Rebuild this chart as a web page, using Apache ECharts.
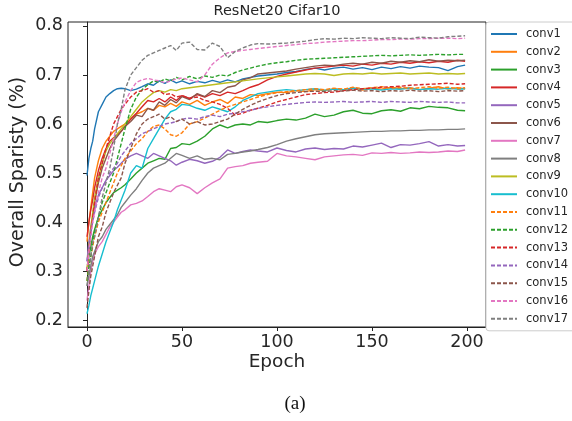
<!DOCTYPE html>
<html><head><meta charset="utf-8">
<script src="https://cdn.jsdelivr.net/npm/echarts@6/dist/echarts.min.js"></script>
<style>html,body{margin:0;padding:0;background:#fff}#c{width:572px;height:421px}</style>
</head><body><div id="c"></div>
<script>
const epochs = [0,1,2,3,4,6,8,10,12,14,16,18,20,23,26,29,32,35,38,41,44,47,50,54,58,62,66,70,74,78,82,86,90,95,100,105,110,115,120,125,130,135,140,145,150,155,160,165,170,175,180,185,190,195,199];
const seriesNames = ['conv1','conv2','conv3','conv4','conv5','conv6','conv7','conv8','conv9','conv10','conv11','conv12','conv13','conv14','conv15','conv16','conv17'];
const xTicks = [0,50,100,150,200];
const yTicks = [0.2,0.3,0.4,0.5,0.6,0.7,0.8];

const conv1 = [0.495,0.53,0.55,0.565,0.59, 0.625,0.64,0.655,0.662,0.668,0.672,0.673,0.672, 0.668,0.671,0.676,0.682,0.679,0.688,0.683,0.69,0.684,0.688, 0.682,0.687,0.684,0.689,0.685,0.69,0.686,0.692,0.695,0.698, 0.7,0.702,0.705,0.707,0.711,0.714,0.71,0.714,0.716,0.712,0.715,0.711,0.716,0.713,0.717,0.714,0.718,0.716,0.715,0.709,0.717, 0.72];
const conv2 = [0.36,0.4,0.43,0.46,0.49, 0.525,0.55,0.565,0.575,0.585,0.59,0.595,0.6, 0.61,0.62,0.625,0.632,0.628,0.638,0.635,0.642,0.636,0.645, 0.64,0.648,0.638,0.645,0.65,0.642,0.655,0.652,0.66,0.658, 0.662,0.665,0.664,0.668,0.666,0.67,0.668,0.672,0.67,0.674,0.669,0.673,0.671,0.675,0.672,0.674,0.67,0.673,0.676,0.671,0.674, 0.672];
const conv3 = [0.3,0.33,0.35,0.37,0.385, 0.41,0.425,0.44,0.45,0.46,0.465,0.47,0.476, 0.488,0.5,0.51,0.52,0.525,0.53,0.528,0.55,0.552,0.56, 0.558,0.565,0.575,0.59,0.598,0.592,0.598,0.6,0.598,0.605, 0.603,0.607,0.61,0.608,0.612,0.62,0.615,0.618,0.625,0.628,0.622,0.621,0.627,0.629,0.626,0.633,0.631,0.636,0.634,0.633,0.628, 0.627];
const conv4 = [0.37,0.4,0.425,0.445,0.47, 0.505,0.53,0.55,0.565,0.572,0.578,0.585,0.595, 0.61,0.622,0.635,0.648,0.645,0.652,0.645,0.655,0.648,0.658, 0.652,0.66,0.655,0.662,0.658,0.665,0.662,0.668,0.675,0.68, 0.69,0.697,0.702,0.706,0.71,0.714,0.716,0.718,0.72,0.718,0.722,0.72,0.724,0.722,0.726,0.724,0.727,0.725,0.728,0.726,0.73, 0.728];
const conv5 = [0.32,0.36,0.39,0.41,0.43, 0.455,0.47,0.485,0.495,0.505,0.512,0.52,0.528, 0.535,0.54,0.535,0.53,0.54,0.535,0.53,0.525,0.516,0.522, 0.528,0.525,0.52,0.524,0.532,0.547,0.54,0.544,0.547,0.545, 0.543,0.551,0.546,0.543,0.549,0.551,0.548,0.55,0.549,0.555,0.553,0.557,0.561,0.552,0.558,0.557,0.56,0.564,0.555,0.558,0.555, 0.556];
const conv6 = [0.3,0.34,0.38,0.41,0.44, 0.48,0.51,0.53,0.55,0.565,0.575,0.585,0.595, 0.605,0.618,0.615,0.632,0.628,0.645,0.638,0.65,0.643,0.656, 0.65,0.662,0.656,0.668,0.664,0.675,0.678,0.69,0.694,0.702, 0.704,0.706,0.708,0.712,0.715,0.718,0.72,0.719,0.722,0.724,0.722,0.726,0.724,0.728,0.726,0.729,0.727,0.731,0.728,0.73,0.729, 0.73];
const conv7 = [0.24,0.27,0.3,0.32,0.335, 0.35,0.36,0.375,0.39,0.4,0.41,0.42,0.425, 0.435,0.438,0.443,0.452,0.462,0.468,0.465,0.462,0.472,0.476, 0.47,0.458,0.47,0.48,0.488,0.51,0.513,0.515,0.52,0.522, 0.524,0.54,0.535,0.533,0.53,0.527,0.533,0.535,0.537,0.538,0.536,0.541,0.54,0.542,0.54,0.541,0.543,0.542,0.543,0.545,0.544, 0.547];
const conv8 = [0.27,0.29,0.31,0.33,0.34, 0.36,0.37,0.385,0.395,0.405,0.415,0.43,0.44, 0.455,0.468,0.485,0.5,0.51,0.515,0.52,0.53,0.54,0.536, 0.53,0.535,0.528,0.53,0.527,0.538,0.54,0.543,0.545,0.548, 0.552,0.558,0.565,0.57,0.574,0.578,0.58,0.581,0.582,0.583,0.584,0.585,0.585,0.586,0.586,0.587,0.587,0.588,0.588,0.589,0.589, 0.59];
const conv9 = [0.3,0.35,0.39,0.42,0.45, 0.49,0.52,0.545,0.56,0.57,0.58,0.59,0.6, 0.615,0.63,0.645,0.655,0.664,0.668,0.665,0.67,0.668,0.672, 0.674,0.676,0.678,0.68,0.682,0.684,0.686,0.688,0.69,0.692, 0.694,0.696,0.698,0.7,0.702,0.703,0.702,0.699,0.702,0.703,0.702,0.704,0.702,0.703,0.704,0.702,0.703,0.704,0.702,0.703,0.702, 0.703];
const conv10 = [0.213,0.23,0.25,0.265,0.28, 0.31,0.335,0.36,0.38,0.4,0.425,0.445,0.465, 0.5,0.515,0.51,0.55,0.57,0.59,0.61,0.625,0.63,0.64, 0.638,0.632,0.628,0.635,0.63,0.625,0.635,0.648,0.655,0.662, 0.665,0.668,0.67,0.668,0.67,0.672,0.669,0.671,0.67,0.673,0.671,0.672,0.669,0.672,0.671,0.673,0.67,0.672,0.671,0.673,0.671, 0.672];
const conv11 = [0.28,0.31,0.33,0.35,0.37, 0.4,0.42,0.44,0.46,0.48,0.5,0.515,0.53, 0.545,0.56,0.57,0.585,0.595,0.598,0.59,0.578,0.575,0.582, 0.6,0.605,0.612,0.62,0.628,0.635,0.64,0.645,0.65,0.655, 0.66,0.664,0.666,0.668,0.67,0.672,0.67,0.673,0.671,0.675,0.672,0.674,0.676,0.673,0.675,0.672,0.674,0.676,0.673,0.675,0.672, 0.674];
const conv12 = [0.28,0.31,0.33,0.36,0.38, 0.41,0.44,0.46,0.48,0.5,0.53,0.56,0.59, 0.63,0.655,0.67,0.68,0.688,0.685,0.692,0.688,0.695,0.69, 0.697,0.692,0.698,0.695,0.7,0.698,0.705,0.71,0.714,0.718, 0.722,0.725,0.727,0.73,0.732,0.733,0.734,0.735,0.736,0.737,0.738,0.739,0.74,0.739,0.74,0.741,0.74,0.741,0.742,0.741,0.742, 0.742];
const conv13 = [0.3,0.34,0.38,0.41,0.44, 0.49,0.52,0.55,0.575,0.6,0.615,0.63,0.64, 0.655,0.665,0.668,0.672,0.665,0.668,0.66,0.662,0.655,0.658, 0.652,0.655,0.648,0.645,0.64,0.632,0.618,0.622,0.628,0.632, 0.638,0.645,0.65,0.655,0.66,0.662,0.664,0.665,0.668,0.67,0.672,0.673,0.675,0.676,0.677,0.679,0.68,0.681,0.682,0.683,0.681, 0.682];
const conv14 = [0.32,0.35,0.38,0.4,0.42, 0.45,0.47,0.485,0.5,0.51,0.52,0.535,0.545, 0.56,0.57,0.58,0.585,0.59,0.595,0.6,0.602,0.605,0.61, 0.612,0.61,0.615,0.618,0.615,0.62,0.622,0.625,0.628,0.632, 0.635,0.638,0.64,0.642,0.644,0.645,0.644,0.645,0.646,0.644,0.645,0.646,0.644,0.646,0.645,0.644,0.646,0.645,0.644,0.645,0.643, 0.643];
const conv15 = [0.225,0.26,0.29,0.31,0.33, 0.37,0.39,0.42,0.44,0.46,0.475,0.49,0.52, 0.55,0.58,0.6,0.61,0.615,0.62,0.61,0.615,0.605,0.61, 0.6,0.605,0.598,0.6,0.605,0.61,0.62,0.63,0.638,0.645, 0.652,0.658,0.662,0.664,0.666,0.667,0.666,0.668,0.667,0.669,0.667,0.668,0.666,0.668,0.667,0.669,0.667,0.668,0.666,0.668,0.667, 0.668];
const conv16 = [0.3,0.34,0.37,0.4,0.42, 0.46,0.49,0.51,0.54,0.57,0.6,0.625,0.645, 0.668,0.685,0.69,0.693,0.69,0.688,0.684,0.688,0.692,0.694, 0.69,0.686,0.7,0.722,0.735,0.745,0.748,0.75,0.752,0.754, 0.756,0.758,0.76,0.762,0.764,0.765,0.767,0.768,0.769,0.77,0.77,0.771,0.772,0.772,0.773,0.773,0.774,0.774,0.775,0.775,0.774, 0.775];
const conv17 = [0.27,0.3,0.33,0.36,0.37, 0.41,0.45,0.48,0.51,0.55,0.6,0.63,0.67, 0.7,0.715,0.73,0.74,0.745,0.75,0.755,0.76,0.75,0.765, 0.767,0.752,0.751,0.765,0.758,0.735,0.748,0.755,0.761,0.764, 0.763,0.764,0.765,0.767,0.769,0.772,0.774,0.773,0.775,0.774,0.776,0.775,0.774,0.776,0.775,0.774,0.777,0.776,0.775,0.778,0.779, 0.78];

const allValues = [conv1,conv2,conv3,conv4,conv5,conv6,conv7,conv8,conv9,conv10,conv11,conv12,conv13,conv14,conv15,conv16,conv17];
const palette = ['#1f77b4','#ff7f0e','#2ca02c','#d62728','#9467bd','#8c564b','#e377c2','#7f7f7f','#bcbd22','#17becf'];
const txt = '#262626';
const FF = 'DejaVu Sans';

const series = allValues.map((vals, i) => {
  const col = i < 10 ? palette[i] : palette[i - 9];
  return {
    name: seriesNames[i],
    type: 'line',
    symbol: 'none',
    showSymbol: false,
    animation: false,
    z: 2 + i,
    color: col,
    lineStyle: { color: col, width: 1.4, type: i >= 10 ? [4, 2] : 'solid' },
    itemStyle: { color: col },
    data: epochs.map((e, k) => [e, vals[k]])
  };
});

const chart = echarts.init(document.getElementById('c'), null, { renderer: 'canvas' });
chart.setOption({
  animation: false,
  backgroundColor: '#fff',
  grid: { left: 68, right: 86, top: 22, bottom: 94, show: true, borderColor: '#222', borderWidth: 1, backgroundColor: 'transparent' },
  xAxis: {
    type: 'value', min: -10, max: 210,
    axisLine: { show: true, lineStyle: { color: '#222', width: 1 } },
    axisTick: { show: true, length: 4, lineStyle: { color: '#222' }, customValues: xTicks },
    axisLabel: { color: txt, fontSize: 17.5, fontFamily: FF, margin: 6, customValues: xTicks },
    splitLine: { show: false }
  },
  yAxis: {
    type: 'value', min: 0.186, max: 0.808,
    axisLine: { show: true, lineStyle: { color: '#222', width: 1 } },
    axisTick: { show: true, length: 4, lineStyle: { color: '#222' }, customValues: yTicks },
    axisLabel: { color: txt, fontSize: 17.5, fontFamily: FF, margin: 5, customValues: yTicks, formatter: v => v.toFixed(1) },
    splitLine: { show: false }
  },
  legend: {
    orient: 'vertical', left: 486, top: 22,
    padding: [6, 40, 6, 4],
    itemWidth: 26, itemHeight: 10, itemGap: 5.8,
    itemStyle: { opacity: 0 },
    backgroundColor: '#fff', borderColor: '#cccccc', borderWidth: 1, borderRadius: 3,
    textStyle: { color: txt, fontSize: 11.5, lineHeight: 10, fontFamily: FF, padding: [0, 0, 0, 4] },
    data: seriesNames,
    z: 50
  },
  graphic: [
    { type: 'text', x: 277, y: 11.5, style: { text: 'ResNet20 Cifar10', fill: txt, font: '14.5px "DejaVu Sans"', textAlign: 'center', textVerticalAlign: 'middle' } },
    { type: 'text', x: 277, y: 362, style: { text: 'Epoch', fill: txt, font: '18.5px "DejaVu Sans"', textAlign: 'center', textVerticalAlign: 'middle' } },
    { type: 'text', x: 18, y: 172, rotation: Math.PI / 2, style: { text: 'Overall Sparisty (%)', fill: txt, font: '19px "DejaVu Sans"', textAlign: 'center', textVerticalAlign: 'middle' } },
    { type: 'text', x: 295, y: 404, style: { text: '(a)', fill: '#111', font: '19px "Liberation Serif"', textAlign: 'center', textVerticalAlign: 'middle' } }
  ],
  series: series
});
</script></body></html>
